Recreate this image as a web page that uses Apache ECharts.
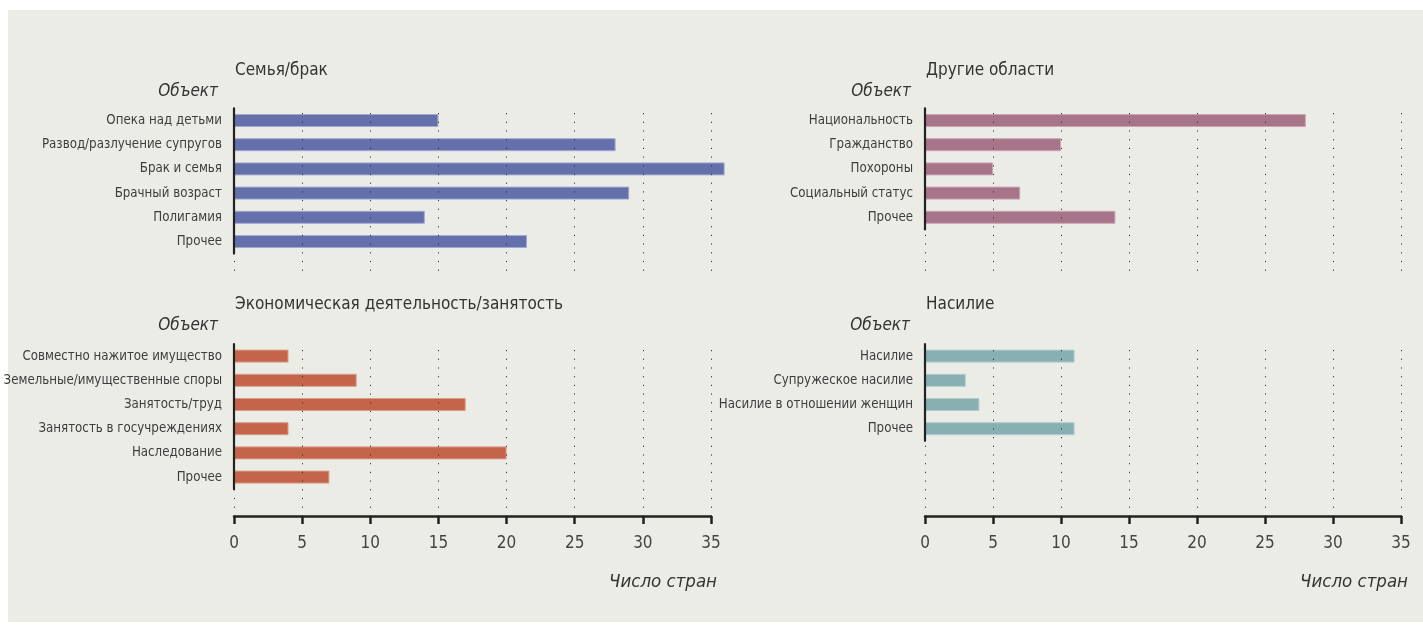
<!DOCTYPE html>
<html><head><meta charset="utf-8">
<script src="https://cdn.jsdelivr.net/npm/echarts@6/dist/echarts.min.js"></script>
<style>html,body{margin:0;padding:0;background:#fff}#c{width:1423px;height:630px}</style>
</head><body><div id="c"></div>
<script>
// ---- data ----
const familyCats = ['Опека над детьми','Развод/разлучение супругов','Брак и семья','Брачный возраст','Полигамия','Прочее'];
const familyVals = [15, 28, 36, 29, 14, 21.5];
const otherCats = ['Национальность','Гражданство','Похороны','Социальный статус','Прочее'];
const otherVals = [28, 10, 5, 7, 14];
const econCats = ['Совместно нажитое имущество','Земельные/имущественные споры','Занятость/труд','Занятость в госучреждениях','Наследование','Прочее'];
const econVals = [4, 9, 17, 4, 20, 7];
const violCats = ['Насилие','Супружеское насилие','Насилие в отношении женщин','Прочее'];
const violVals = [11, 3, 4, 11];
const xMin = 0, xMax = 35, xStep = 5;
const panelTitles = ['Семья/брак','Другие области','Экономическая деятельность/занятость','Насилие'];
const yAxisTitle = 'Объект';
const xAxisTitle = 'Число стран';

// ---- layout / style ----
const FONT = "'Liberation Sans Narrow','DejaVu Sans Condensed','Roboto',sans-serif";
const ROW = 24.2;
const panels = [
  {cats: familyCats, vals: familyVals, color:'#6370AC', border:'#A3A9CF', left:234, width:477, catTop:108.4, lineTop:113, lineBottom:272, showX:false, title:panelTitles[0], titleY:71, objX:218, objY:92},
  {cats: otherCats, vals: otherVals, color:'#A87489', border:'#CBA3B3', left:925, width:476, catTop:108.4, lineTop:113, lineBottom:272, showX:false, title:panelTitles[1], titleY:71, objX:911, objY:92},
  {cats: econCats, vals: econVals, color:'#C4654B', border:'#DA9A88', left:234, width:477, catTop:344, lineTop:350, lineBottom:516, showX:true, title:panelTitles[2], titleY:305, objX:218, objY:326, nameX:717},
  {cats: violCats, vals: violVals, color:'#88AFB1', border:'#B3CDCE', left:925, width:476, catTop:344, lineTop:350, lineBottom:516, showX:true, title:panelTitles[3], titleY:305, objX:910, objY:326, nameX:1408}
];

const grid = [], xAxis = [], yAxis = [], series = [], graphic = [];
graphic.push({type:'rect', shape:{x:8, y:10, width:1415, height:612}, style:{fill:'#ECECE7'}, z:-100, silent:true});

panels.forEach((p, i) => {
  const gL = grid.length;
  grid.push({left:p.left, top:p.lineTop, width:p.width, height:p.lineBottom - p.lineTop, containLabel:false, outerBoundsMode:'none'});
  grid.push({left:p.left, top:p.catTop, width:p.width, height:p.cats.length * ROW, containLabel:false, outerBoundsMode:'none'});
  xAxis.push({
    type:'value', gridIndex:gL, min:xMin, max:xMax, interval:xStep, z:5,
    splitLine:{show:true, lineStyle:{type:[1.2,7.5], color:'#333', width:1}},
    axisLine:{show:p.showX, lineStyle:{color:'#222', width:2.5}},
    axisTick:{show:p.showX, length:8, lineStyle:{color:'#222', width:2.5}},
    axisLabel:{show:p.showX, fontFamily:FONT, fontSize:17, color:'#444', margin:19}
  });
  xAxis.push({type:'value', gridIndex:gL+1, min:xMin, max:xMax, interval:xStep, show:false});
  yAxis.push({type:'value', gridIndex:gL, show:false});
  yAxis.push({
    type:'category', gridIndex:gL+1, data:p.cats, inverse:true, z:6,
    axisLine:{show:true, lineStyle:{color:'#222', width:2.2}},
    axisTick:{show:false}, splitLine:{show:false},
    axisLabel:{fontFamily:FONT, fontSize:13.2, color:'#3d3d3d', margin:12}
  });
  series.push({
    type:'bar', xAxisIndex:gL+1, yAxisIndex:gL+1, data:p.vals, barWidth:13, clip:false, z:2,
    itemStyle:{color:p.color, borderColor:p.border, borderWidth:1}, silent:true
  });
  graphic.push({type:'text', x:p.left + 1, y:p.titleY, style:{text:p.title, font:'17px ' + FONT, fill:'#333', align:'left', verticalAlign:'middle'}});
  graphic.push({type:'text', x:p.objX, y:p.objY, style:{text:yAxisTitle, font:'italic 17px ' + FONT, fill:'#333', align:'right', verticalAlign:'middle'}});
  if (p.showX) {
    graphic.push({type:'text', x:p.nameX, y:582, style:{text:xAxisTitle, font:'italic 18.5px ' + FONT, fill:'#333', align:'right', verticalAlign:'middle'}});
  }
});

const chart = echarts.init(document.getElementById('c'), null, {renderer:'canvas'});
chart.setOption({animation:false, backgroundColor:'#fff', grid, xAxis, yAxis, series, graphic});
</script></body></html>
